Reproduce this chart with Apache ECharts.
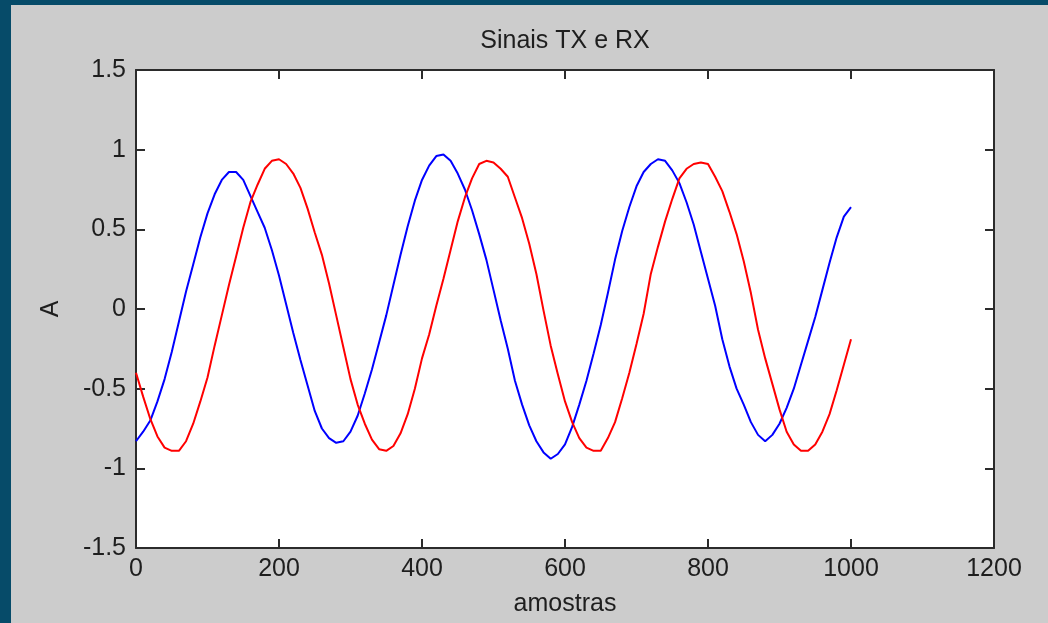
<!DOCTYPE html>
<html lang="pt">
<head>
    <meta charset="UTF-8">
    <title>Sinais TX e RX</title>
    <script src="https://cdn.jsdelivr.net/npm/echarts@6/dist/echarts.min.js"></script>
    <style>
        html, body { margin: 0; padding: 0; background: #064b69; width: 1048px; height: 623px; overflow: hidden; }
        #fig { position: absolute; left: 11px; top: 5px; width: 1037px; height: 618px; background: #cccccc; }
    </style>
</head>
<body>
    <div id="fig"></div>
    <script>
        // one value every 10 samples
        var passo = 10
        var tx = [
            -0.83, -0.77, -0.70, -0.58, -0.44, -0.27, -0.08, 0.11, 0.28, 0.45,
            0.60, 0.72, 0.81, 0.86, 0.86, 0.81, 0.71, 0.61, 0.51, 0.37,
            0.21, 0.03, -0.15, -0.32, -0.48, -0.64, -0.75, -0.81, -0.84, -0.83,
            -0.77, -0.67, -0.53, -0.38, -0.21, -0.04, 0.15, 0.34, 0.52, 0.68,
            0.81, 0.90, 0.96, 0.97, 0.93, 0.85, 0.75, 0.62, 0.47, 0.31,
            0.12, -0.07, -0.25, -0.45, -0.60, -0.73, -0.83, -0.90, -0.94, -0.91,
            -0.85, -0.74, -0.60, -0.45, -0.28, -0.10, 0.10, 0.31, 0.49, 0.64,
            0.77, 0.86, 0.91, 0.94, 0.93, 0.87, 0.79, 0.67, 0.53, 0.36,
            0.19, 0.02, -0.19, -0.36, -0.50, -0.60, -0.71, -0.79, -0.83, -0.79,
            -0.72, -0.62, -0.50, -0.35, -0.20, -0.05, 0.12, 0.29, 0.45, 0.58,
            0.64
        ]
        var rx = [
            -0.40, -0.55, -0.69, -0.80, -0.87, -0.89, -0.89, -0.83, -0.72, -0.58,
            -0.43, -0.23, -0.04, 0.15, 0.33, 0.51, 0.67, 0.78, 0.88, 0.93,
            0.94, 0.91, 0.85, 0.76, 0.63, 0.48, 0.34, 0.16, -0.04, -0.24,
            -0.44, -0.60, -0.72, -0.82, -0.88, -0.89, -0.86, -0.78, -0.66, -0.50,
            -0.31, -0.16, 0.02, 0.19, 0.37, 0.55, 0.70, 0.82, 0.91, 0.93,
            0.92, 0.88, 0.83, 0.70, 0.57, 0.41, 0.22, -0.01, -0.23, -0.41,
            -0.58, -0.71, -0.81, -0.87, -0.89, -0.89, -0.81, -0.71, -0.56, -0.40,
            -0.22, -0.03, 0.22, 0.39, 0.55, 0.69, 0.82, 0.88, 0.91, 0.92,
            0.91, 0.83, 0.74, 0.61, 0.47, 0.30, 0.10, -0.13, -0.31, -0.47,
            -0.63, -0.77, -0.85, -0.89, -0.89, -0.85, -0.77, -0.66, -0.51, -0.35,
            -0.19
        ]

        function pares(v) {
            return v.map(function(y, i) { return [i * passo, y] })
        }

        var fonte = 'Liberation Sans, Arial, Helvetica, sans-serif'
        var eixo = {
            onZero: false,
            lineStyle: { color: '#2b2b2b', width: 2 }
        }
        var marca = { inside: true, length: 9, lineStyle: { color: '#2b2b2b', width: 2 } }
        var rotulo = {
            color: '#1e1e1e', fontSize: 25, fontFamily: fonte,
            formatter: function(v) { return String(v) }
        }
        var ch = echarts.init(document.getElementById('fig'))
        ch.setOption({
            animation: false,
            backgroundColor: '#cccccc',
            title: {
                text: 'Sinais TX e RX',
                left: 565 - 11,
                textAlign: 'center',
                top: 24,
                padding: 0,
                textStyle: { color: '#1e1e1e', fontSize: 25, fontWeight: 'normal', fontFamily: fonte }
            },
            grid: {
                left: 125, top: 65, width: 858, height: 478,
                show: true, backgroundColor: '#ffffff', borderWidth: 0
            },
            xAxis: [{
                type: 'value', min: 0, max: 1200, interval: 200,
                name: 'amostras', nameLocation: 'middle', nameGap: 44,
                nameTextStyle: { color: '#1e1e1e', fontSize: 25, fontFamily: fonte },
                axisLine: eixo,
                axisTick: marca,
                axisLabel: Object.assign({ margin: 9 }, rotulo),
                splitLine: { show: false }
            }, {
                type: 'value', min: 0, max: 1200, interval: 200, position: 'top',
                axisLine: eixo,
                axisTick: marca,
                axisLabel: { show: false },
                splitLine: { show: false }
            }],
            yAxis: [{
                type: 'value', min: -1.5, max: 1.5, interval: 0.5,
                name: 'A', nameLocation: 'middle', nameGap: 72, nameRotate: 90,
                nameTextStyle: { color: '#1e1e1e', fontSize: 25, fontFamily: fonte },
                axisLine: eixo,
                axisTick: marca,
                axisLabel: Object.assign({ margin: 10 }, rotulo),
                splitLine: { show: false }
            }, {
                type: 'value', min: -1.5, max: 1.5, interval: 0.5, position: 'right',
                axisLine: eixo,
                axisTick: marca,
                axisLabel: { show: false },
                splitLine: { show: false }
            }],
            series: [{
                name: 'TX',
                type: 'line',
                showSymbol: false,
                lineStyle: { color: '#0000ff', width: 2 },
                data: pares(tx)
            }, {
                name: 'RX',
                type: 'line',
                showSymbol: false,
                lineStyle: { color: '#ff0000', width: 2 },
                data: pares(rx)
            }]
        })
    </script>
</body>
</html>
